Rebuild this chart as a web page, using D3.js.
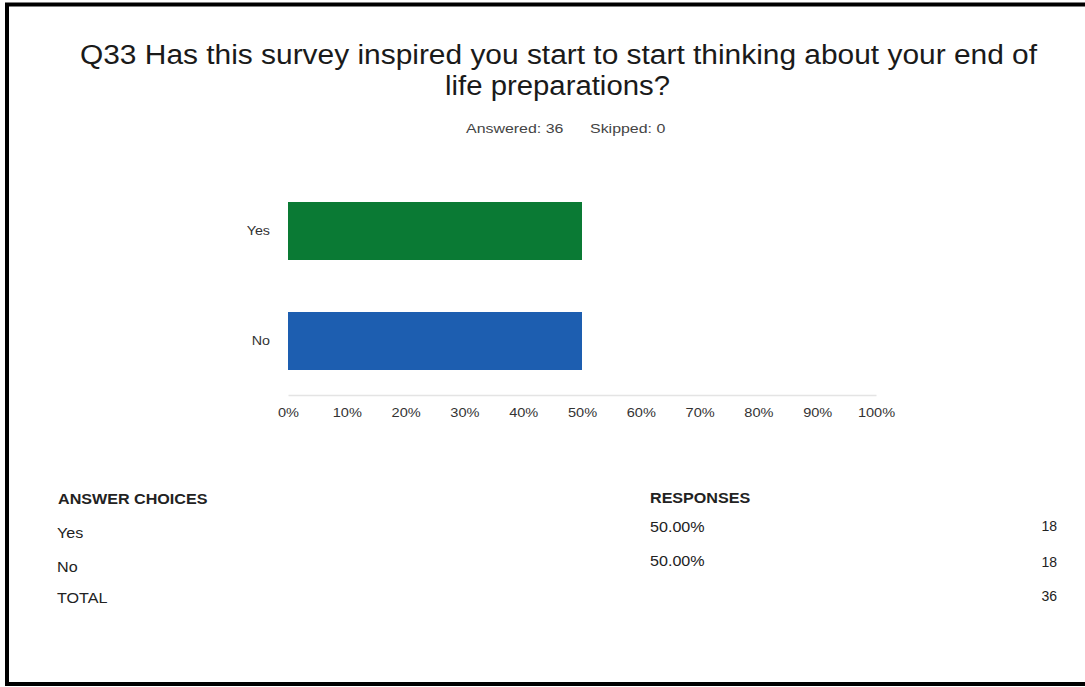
<!DOCTYPE html>
<html>
<head>
<meta charset="utf-8">
<script src="https://cdn.jsdelivr.net/npm/d3@7"></script>
<style>
  html, body { margin: 0; padding: 0; background: #fff; }
  svg { display: block; font-family: "Liberation Sans", Arial, sans-serif; }
</style>
</head>
<body>
<svg id="chart" width="1085" height="687"></svg>
<script>
// Survey question and response data
const titleLines = [
  "Q33 Has this survey inspired you start to start thinking about your end of",
  "life preparations?"
];
const answeredCount = 36;
const skippedCount = 0;
const categories = ["Yes", "No"];
const percents = [50.00, 50.00];
const counts = [18, 18];
const barColors = ["#0a7a34", "#1d5eb0"];
const tickValues = [0, 10, 20, 30, 40, 50, 60, 70, 80, 90, 100];

const svg = d3.select("#chart");

// Widen text horizontally by factor k (the survey export uses a wide face)
function stretch(sel, k) {
  sel.each(function () {
    const w = this.getComputedTextLength();
    d3.select(this).attr("textLength", w * k).attr("lengthAdjust", "spacingAndGlyphs");
  });
}

// Frame
svg.append("rect").attr("x", 0).attr("y", 0).attr("width", 1085).attr("height", 687).attr("fill", "#fff");
svg.append("path")
  .attr("d", "M1085,4.5 H7 V684 H1085")
  .attr("fill", "none").attr("stroke", "#000").attr("stroke-width", 4);

// Title
svg.append("text")
  .attr("x", 558.5).attr("y", 64)
  .attr("text-anchor", "middle")
  .attr("font-size", 27)
  .attr("fill", "#1a1a1a")
  .attr("textLength", 957).attr("lengthAdjust", "spacingAndGlyphs")
  .text(titleLines[0]);
svg.append("text")
  .attr("x", 557.5).attr("y", 95)
  .attr("text-anchor", "middle")
  .attr("font-size", 27)
  .attr("fill", "#1a1a1a")
  .attr("textLength", 225).attr("lengthAdjust", "spacingAndGlyphs")
  .text(titleLines[1]);

const sub = svg.append("g").attr("font-size", 13.5).attr("fill", "#444");
sub.append("text").attr("x", 466).attr("y", 133).text(`Answered: ${answeredCount}`).call(stretch, 1.18);
sub.append("text").attr("x", 590).attr("y", 133).text(`Skipped: ${skippedCount}`).call(stretch, 1.18);

// Bar chart
const x = d3.scaleLinear().domain([0, 100]).range([288, 876]);
const pin = 52 / 110;
const y = d3.scaleBand().domain(categories).range([176, 396]).paddingInner(pin).paddingOuter(pin / 2);

const gx = svg.append("g").attr("transform", "translate(0,395)")
  .call(d3.axisBottom(x).tickValues(tickValues).tickFormat(d => d + "%").tickSize(0).tickPadding(13));
gx.select(".domain").attr("stroke", "#e4e4e4").attr("stroke-width", 1.5);
gx.selectAll("text").attr("font-size", 13).attr("fill", "#333")
  .attr("font-family", "Liberation Sans, Arial, sans-serif").call(stretch, 1.12);

svg.append("g").selectAll("rect")
  .data(categories)
  .join("rect")
  .attr("x", x(0))
  .attr("y", d => y(d))
  .attr("width", (d, i) => x(percents[i]) - x(0))
  .attr("height", y.bandwidth())
  .attr("fill", (d, i) => barColors[i]);

svg.append("g").selectAll("text")
  .data(categories)
  .join("text")
  .attr("x", 270)
  .attr("y", d => y(d) + y.bandwidth() / 2 + 4)
  .attr("text-anchor", "end")
  .attr("font-size", 13)
  .attr("fill", "#333")
  .text(d => d)
  .call(stretch, 1.1);

// Response table
const table = svg.append("g").attr("fill", "#222").attr("font-size", 14);
table.append("text").attr("x", 58).attr("y", 504).attr("font-weight", "bold").text("ANSWER CHOICES").call(stretch, 1.15);
table.append("text").attr("x", 650).attr("y", 503).attr("font-weight", "bold").text("RESPONSES").call(stretch, 1.15);

const rowY = [538, 572];
categories.forEach((c, i) => {
  table.append("text").attr("x", 57).attr("y", rowY[i]).text(c).call(stretch, 1.15);
  table.append("text").attr("x", 650).attr("y", rowY[i] - 6).text(percents[i].toFixed(2) + "%").call(stretch, 1.15);
  table.append("text").attr("x", 1057).attr("y", rowY[i] - 7 + i * 2).attr("text-anchor", "end").text(counts[i]);
});
table.append("text").attr("x", 57).attr("y", 603).text("TOTAL").call(stretch, 1.15);
table.append("text").attr("x", 1057).attr("y", 601).attr("text-anchor", "end").text(d3.sum(counts));
</script>
</body>
</html>
